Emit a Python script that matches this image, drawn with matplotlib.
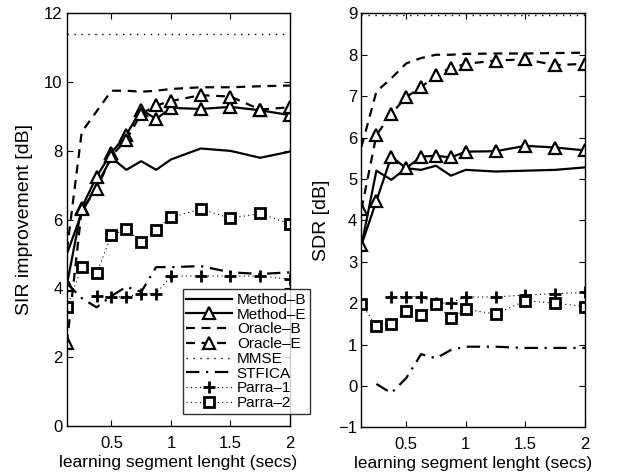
import numpy as np
import matplotlib
matplotlib.use("Agg")
import matplotlib.pyplot as plt

plt.rcParams['font.family'] = ['Liberation Sans', 'DejaVu Sans']

# segment lengths (secs)
x = [0.125, 0.25, 0.375, 0.5, 0.625, 0.75, 0.875, 1.0, 1.25, 1.5, 1.75, 2.0]
x_from3 = x[2:]
x_from2 = x[1:]

# SIR improvement [dB]
sir_method_b = [5.0, 6.2, 7.0, 7.8, 7.45, 7.7, 7.45, 7.75, 8.07, 8.0, 7.8, 7.98]
sir_method_e = [4.1, 6.35, 7.25, 7.95, 8.47, 9.2, 8.93, 9.25, 9.22, 9.28, 9.18, 9.04]
sir_oracle_b = [5.1, 8.55, 9.15, 9.75, 9.75, 9.72, 9.75, 9.8, 9.85, 9.85, 9.88, 9.9]
sir_oracle_e = [2.4, 6.3, 6.88, 7.85, 8.33, 9.08, 9.32, 9.45, 9.62, 9.58, 9.2, 9.27]
sir_mmse = [11.4] * len(x)
sir_stfica = [4.15, 3.72, 3.45, 3.78, 4.05, 3.9, 4.62, 4.62, 4.65, 4.47, 4.42, 4.47]
sir_parra1 = [3.78, 3.75, 3.76, 3.85, 3.85, 4.36, 4.36, 4.36, 4.36, 4.27]
sir_parra2 = [3.45, 4.61, 4.44, 5.55, 5.72, 5.36, 5.7, 6.07, 6.31, 6.04, 6.18, 5.87]

# SDR [dB]
sdr_method_b = [3.4, 5.2, 4.98, 5.26, 5.22, 5.32, 5.08, 5.22, 5.18, 5.2, 5.22, 5.28]
sdr_method_e = [3.41, 4.47, 5.54, 5.26, 5.54, 5.56, 5.52, 5.66, 5.67, 5.8, 5.76, 5.69]
sdr_oracle_b = [5.78, 7.11, 7.43, 7.79, 7.92, 8.0, 8.0, 8.02, 8.03, 8.03, 8.04, 8.05]
sdr_oracle_e = [4.27, 6.06, 6.57, 6.98, 7.21, 7.52, 7.68, 7.78, 7.86, 7.89, 7.75, 7.78]
sdr_mmse = [8.97] * len(x)
sdr_stfica = [0.05, -0.17, 0.19, 0.77, 0.67, 0.87, 0.95, 0.95, 0.92, 0.92, 0.92]
sdr_parra1 = [2.16, 2.16, 2.16, 2.0, 2.01, 2.15, 2.15, 2.2, 2.23, 2.26]
sdr_parra2 = [1.98, 1.44, 1.5, 1.8, 1.72, 1.98, 1.64, 1.85, 1.74, 2.06, 2.0, 1.92]

labels = ["Method–B", "Method–E", "Oracle–B", "Oracle–E",
          "MMSE", "STFICA", "Parra–1", "Parra–2"]

fig = plt.figure(figsize=(6.19, 4.76), dpi=100)
ax1 = fig.add_axes([0.108, 0.105, 0.3605, 0.867])
ax2 = fig.add_axes([0.584, 0.102, 0.361, 0.870])


def draw(ax, mb, me, ob, oe, mm, st, p1, p2, x_st):
    tri = dict(marker='^', ms=8, mfc='white', mec='black', mew=1.6)
    ax.plot(x, mb, c='black', lw=1.6, label=labels[0])
    ax.plot(x, me, c='black', lw=1.6, label=labels[1], **tri)
    ax.plot(x, ob, c='black', lw=1.6, ls=(0, (4, 3)), label=labels[2])
    ax.plot(x, oe, c='black', lw=1.6, ls=(0, (4, 3)), label=labels[3], **tri)
    ax.plot(x, mm, c='black', lw=1.0, ls=(0, (1, 4)), label=labels[4])
    ax.plot(x_st, st, c='black', lw=1.6, ls=(0, (6, 3, 1, 3)), label=labels[5])
    ax.plot(x_from3, p1, c='black', lw=0.8, ls=(0, (1, 3)), marker='+',
            ms=8, mew=2, label=labels[6])
    ax.plot(x, p2, c='black', lw=0.8, ls=(0, (1, 3)), marker='s', ms=6.5,
            mfc='white', mec='black', mew=2, label=labels[7])
    ax.set_xlim(0.125, 2)
    ax.set_xticks([0.5, 1, 1.5, 2])
    ax.set_xticklabels(["0.5", "1", "1.5", "2"])
    ax.tick_params(direction='in', top=True, right=True, labelsize=12,
                   length=4, pad=3)
    ax.tick_params(axis='x', pad=7)
    ax.set_xlabel("learning segment lenght (secs)", fontsize=12.5, labelpad=3)
    for s in ax.spines.values():
        s.set_linewidth(1.0)


draw(ax1, sir_method_b, sir_method_e, sir_oracle_b, sir_oracle_e,
     sir_mmse, sir_stfica, sir_parra1, sir_parra2, x)
ax1.set_ylim(0, 12)
ax1.set_yticks(range(0, 13, 2))
ax1.set_ylabel("SIR improvement [dB]", fontsize=14, labelpad=8)

draw(ax2, sdr_method_b, sdr_method_e, sdr_oracle_b, sdr_oracle_e,
     sdr_mmse, sdr_stfica, sdr_parra1, sdr_parra2, x_from2)
ax2.set_ylim(-1, 9)
ax2.set_yticks(range(-1, 10))
ax2.set_ylabel("SDR [dB]", fontsize=14, labelpad=6)

leg = ax1.legend(loc='lower right', bbox_to_anchor=(1.09, 0.029),
                 fontsize=11, frameon=True, fancybox=False,
                 handlelength=3.0, handletextpad=0.3, borderpad=0.25,
                 labelspacing=0.05, borderaxespad=0)
leg.get_frame().set_edgecolor('black')
leg.get_frame().set_linewidth(1.0)
leg.set_zorder(5)

fig.savefig("out.png", dpi=100)
